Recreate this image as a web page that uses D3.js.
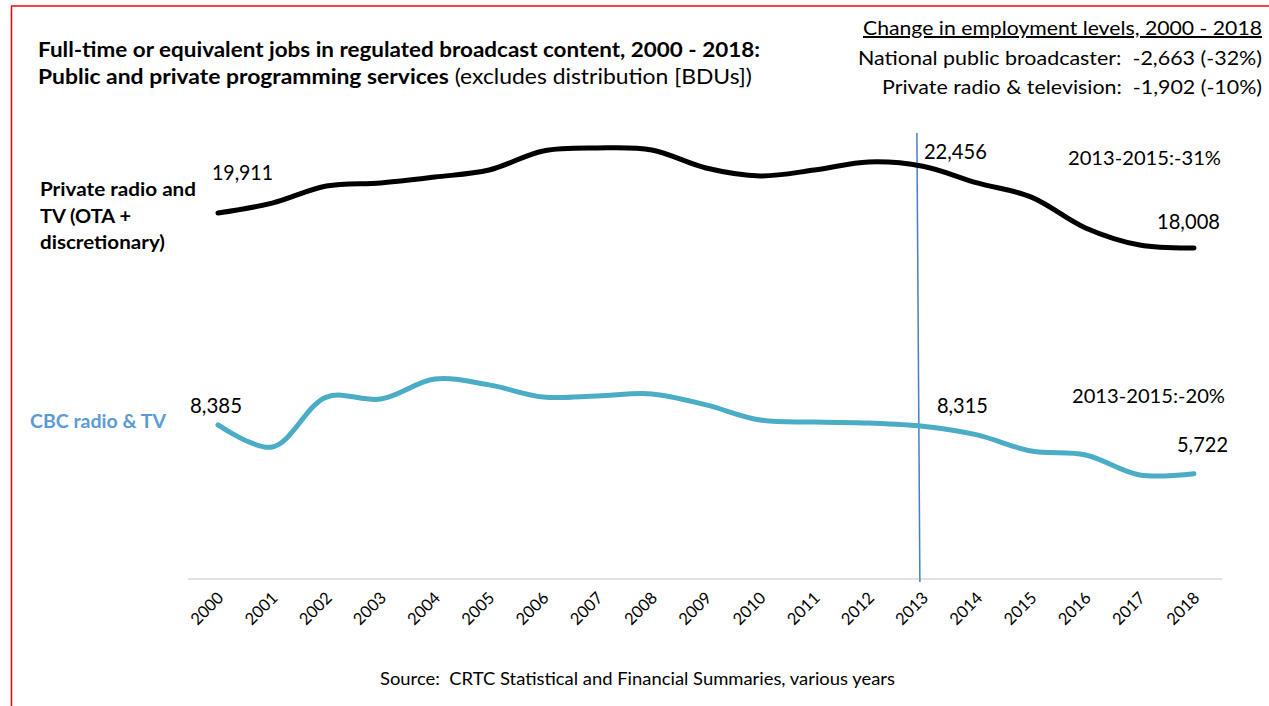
<!DOCTYPE html>
<html>
<head>
<meta charset="utf-8">
<script src="https://cdn.jsdelivr.net/npm/d3@7"></script>
<style>
  body { margin: 0; background: #fff; }
  svg text { font-family: Lato, "Open Sans", sans-serif; white-space: pre; }
</style>
</head>
<body>
<div id="chart"></div>
<script>
// data
var years = [2000, 2001, 2002, 2003, 2004, 2005, 2006, 2007, 2008, 2009,
             2010, 2011, 2012, 2013, 2014, 2015, 2016, 2017, 2018];
var privateJobs = [19911, 20450, 21380, 21550, 21870, 22250, 23290, 23450, 23340, 22360,
                   21930, 22250, 22690, 22456, 21550, 20780, 19100, 18170, 18008];
var cbcJobs = [8385, 7180, 9900, 9790, 10880, 10560, 9900, 9960, 10070, 9470,
               8650, 8540, 8490, 8315, 7840, 6960, 6750, 5660, 5722];
var yDomain = [0, 25000];

var W = 1269, H = 706;
var svg = d3.select("#chart").append("svg")
    .attr("width", W).attr("height", H);

// red frame (top and left edges)
svg.append("line").attr("x1", 11).attr("y1", 6).attr("x2", W).attr("y2", 6)
    .attr("stroke", "#ff0000").attr("stroke-width", 1.5);
svg.append("line").attr("x1", 11.5).attr("y1", 6).attr("x2", 11.5).attr("y2", H)
    .attr("stroke", "#ff0000").attr("stroke-width", 1.5);

// scales
var x = d3.scalePoint().domain(years).range([218, 1194]);
var y = d3.scaleLinear().domain(yDomain).range([579, 119.5]);

// helper: text squeezed/stretched to the width seen in the picture
function fitText(sel, w) {
  sel.attr("textLength", w).attr("lengthAdjust", "spacingAndGlyphs");
  return sel;
}

// title
fitText(svg.append("text").attr("x", 38).attr("y", 57)
    .style("font-size", "20.5px").style("font-weight", "bold")
    .text("Full-time or equivalent jobs in regulated broadcast content, 2000 - 2018:"), 722);
var t2 = svg.append("text").attr("x", 38).attr("y", 84).style("font-size", "20.5px");
t2.append("tspan").style("font-weight", "bold").text("Public and private programming services");
t2.append("tspan").text(" (excludes distribution [BDUs])");
fitText(t2, 714);

// top-right change summary
fitText(svg.append("text").attr("x", 1262).attr("y", 35).attr("text-anchor", "end")
    .style("font-size", "20px").style("text-decoration", "underline")
    .text("Change in employment levels, 2000 - 2018"), 399);
fitText(svg.append("text").attr("x", 1262).attr("y", 65).attr("text-anchor", "end")
    .style("font-size", "20px")
    .text("National public broadcaster:  -2,663 (-32%)"), 404);
fitText(svg.append("text").attr("x", 1262).attr("y", 94).attr("text-anchor", "end")
    .style("font-size", "20px")
    .text("Private radio & television:  -1,902 (-10%)"), 380);

// x axis
var xAxis = svg.append("g")
    .attr("transform", "translate(0,579)")
    .call(d3.axisBottom(x).tickSize(0).tickPadding(0));
xAxis.select(".domain").remove();
svg.append("line").attr("x1", 188).attr("x2", 1222).attr("y1", 579).attr("y2", 579)
    .attr("stroke", "#d9d9d9").attr("stroke-width", 1.5);
xAxis.selectAll("text")
    .attr("fill", "#000")
    .style("font-family", "Lato, sans-serif")
    .style("font-size", "16.5px")
    .style("text-anchor", "end")
    .attr("dy", null)
    .attr("y", 0)
    .attr("transform", "translate(6,20) rotate(-45)");

// 2013 marker line
svg.append("line")
    .attr("x1", x(2013) - 6).attr("y1", 133)
    .attr("x2", x(2013) - 3).attr("y2", 582)
    .attr("stroke", "#4a7ec4").attr("stroke-width", 1.5);

// lines
var line = d3.line()
    .x(function(d, i) { return x(years[i]); })
    .y(function(d) { return y(d); })
    .curve(d3.curveCatmullRom.alpha(0.5));

svg.append("path").datum(privateJobs)
    .attr("d", line).attr("fill", "none")
    .attr("stroke", "#000").attr("stroke-width", 5).attr("stroke-linecap", "round");
svg.append("path").datum(cbcJobs)
    .attr("d", line).attr("fill", "none")
    .attr("stroke", "#4bacc6").attr("stroke-width", 5).attr("stroke-linecap", "round");

// series labels
var privLines = [["Private radio and", 156], ["TV (OTA +", 91], ["discretionary)", 125]];
privLines.forEach(function(p, i) {
  fitText(svg.append("text").attr("x", 40).attr("y", 196 + i * 26.5)
      .style("font-size", "19.5px").style("font-weight", "bold").text(p[0]), p[1]);
});
fitText(svg.append("text").attr("x", 30).attr("y", 428)
    .style("font-size", "19.5px").style("font-weight", "bold").attr("fill", "#5b9bd5")
    .text("CBC radio & TV"), 136);

// value labels
function fmt(v) { return d3.format(",")(v); }
function valueLabel(val, xp, dx, dy, w) {
  fitText(svg.append("text").attr("x", xp + dx).attr("y", y(val) + dy)
      .style("font-size", "20.5px").attr("fill", "#000").text(fmt(val)), w);
}
valueLabel(privateJobs[0], x(2000), -6, -33, 61);
valueLabel(cbcJobs[0], x(2000), -28, -12, 52);
valueLabel(privateJobs[13], x(2013), 1, -7, 63);
valueLabel(cbcJobs[13], x(2013), 14, -13, 51);
valueLabel(privateJobs[18], x(2018), -37, -19, 63);
valueLabel(cbcJobs[18], x(2018), -17, -22, 51);

fitText(svg.append("text").attr("x", 1068).attr("y", 165)
    .style("font-size", "19.5px").text("2013-2015:-31%"), 153);
fitText(svg.append("text").attr("x", 1072).attr("y", 403)
    .style("font-size", "19.5px").text("2013-2015:-20%"), 153);

// source
fitText(svg.append("text").attr("x", 380).attr("y", 685)
    .style("font-size", "16.5px")
    .text("Source:  CRTC Statistical and Financial Summaries, various years"), 515);
</script>
</body>
</html>
